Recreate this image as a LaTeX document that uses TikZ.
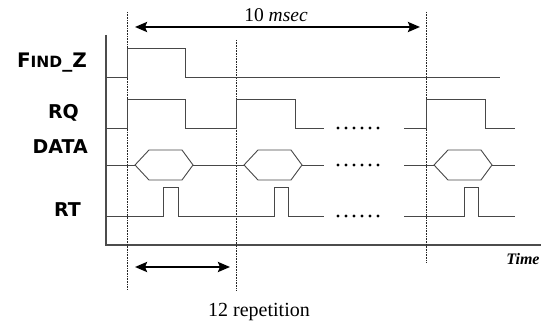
\documentclass[tikz,border=0pt]{standalone}
\usepackage{fontspec}
\setmainfont{Liberation Serif}
\newfontfamily\sigfont{DejaVu Sans}
\usepackage{tikz}
\usetikzlibrary{arrows.meta}
\usetikzlibrary{calc}

\tikzset{
  signal/.style={line width=0.9pt, black!72, line join=miter},
  guide/.style={densely dotted, line width=0.6pt, black!85},
  axisline/.style={line width=1.1pt, black!70},
  span/.style={{Stealth[length=12pt,width=10pt,inset=2pt]}-{Stealth[length=12pt,width=10pt,inset=2pt]}, line width=2.4pt},
  siglabel/.style={font=\sigfont\bfseries\fontsize{19}{19}\selectfont, anchor=east, inner sep=0pt},
  dots/.style={fill=black, circle, inner sep=0pt, minimum size=3.3pt},
}

\begin{document}
\begin{tikzpicture}[x=1pt, y=-1pt]
\useasboundingbox (0,0) rectangle (542,321);

% axes
\coordinate (origin) at (106,245);
\draw[axisline] (106,35) -- (origin) -- (541,245);
\node (time) at (523,259) {\fontsize{16}{16}\selectfont\bfseries\itshape Time};

% guide lines
\coordinate (g1top) at (127,12);  \coordinate (g1bot) at (127,290);
\coordinate (g2top) at (236,40);  \coordinate (g2bot) at (236,290);
\coordinate (g3top) at (426,12);  \coordinate (g3bot) at (426,263);
\draw[guide] (g1top) -- (g1bot);
\draw[guide] (g2top) -- (g2bot);
\draw[guide] (g3top) -- (g3bot);

% labels
\node[siglabel] (findz) at (87,63) {\fontsize{20}{20}\selectfont F{\fontsize{15.5}{15}\selectfont IND}\_Z};
\node[siglabel] (rq) at (79,113) {RQ};
\node[siglabel] (data) at (88,147) {DATA};
\node[siglabel] (rt) at (81,210) {RT};

% FIND_Z
\draw[signal] (106,77) -- (127,77) -- (127,48) -- (185,48) -- (185,77) -- (500,77);

% RQ
\draw[signal] (106,128) -- (127,128) -- (127,99) -- (185,99) -- (185,128) -- (236,128)
  -- (236,99) -- (295,99) -- (295,128) -- (324,128);
\draw[signal] (404,128) -- (426,128) -- (426,99) -- (485,99) -- (485,128) -- (515,128);

% DATA
\draw[signal] (106,165) -- (135,165);
\draw[signal] (135,165) -- (149,150) -- (182,150) -- (193,165) -- (182,180) -- (149,180) -- cycle;
\draw[signal] (193,165) -- (244,165);
\draw[signal] (244,165) -- (258,150) -- (291,150) -- (302,165) -- (291,180) -- (258,180) -- cycle;
\draw[signal] (302,165) -- (324,165);
\draw[signal] (404,165) -- (434,165);
\draw[signal] (434,165) -- (448,150) -- (481,150) -- (492,165) -- (481,180) -- (448,180) -- cycle;
\draw[signal] (492,165) -- (515,165);

% RT
\draw[signal] (106,216) -- (163,216) -- (163,187) -- (178,187) -- (178,216) -- (274,216)
  -- (274,187) -- (288,187) -- (288,216) -- (324,216);
\draw[signal] (404,216) -- (464,216) -- (464,187) -- (478,187) -- (478,216) -- (515,216);

% skipped cycles
\foreach \y in {128,165,216}
  \foreach \x in {338,346,...,378}
    \node[dots] at (\x,\y) {};

% periods
\coordinate (msecL) at (135,27);
\coordinate (msecR) at (420,27);
\draw[span] (msecL) -- (msecR);
\node (msec) at (276,15) {\fontsize{19.5}{19}\selectfont 10 \textit{msec}};

\coordinate (repL) at (135,267);
\coordinate (repR) at (230,267);
\draw[span] (repL) -- (repR);
\node (rep) at (259,312) {\fontsize{20}{20}\selectfont 12 repetition};
\end{tikzpicture}
\end{document}
